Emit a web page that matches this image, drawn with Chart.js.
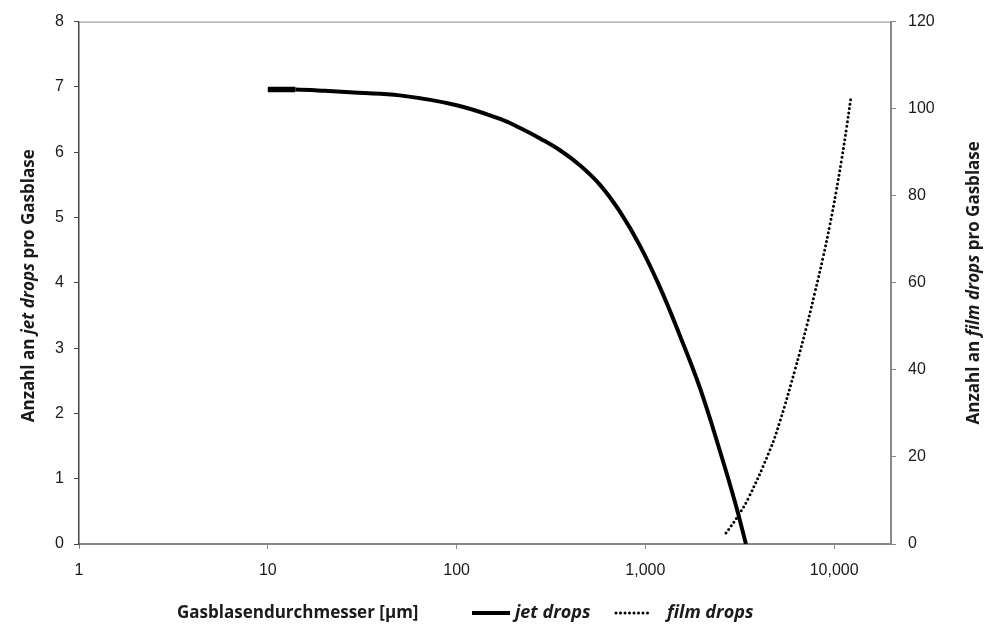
<!DOCTYPE html>
<html lang="de">
<head>
<meta charset="utf-8">
<title>Jet drops und film drops pro Gasblase</title>
<script src="https://cdn.jsdelivr.net/npm/chart.js@4.4.1/dist/chart.umd.min.js"></script>
<style>
    html, body { margin: 0; padding: 0; background: #ffffff; }
    #wrap { width: 985px; height: 628px; }
</style>
</head>
<body>
<div id="wrap"><canvas id="tropfenChart" width="985" height="628"></canvas></div>
<script>
// Jet drops: Gasblasendurchmesser [µm] und Anzahl pro Gasblase (linke Achse)
const jetDurchmesser = [10, 14, 20, 30, 50, 100, 170, 217, 277, 353, 450, 575, 733, 935, 1195, 1524, 1945, 2485, 2985, 3410];
const jetAnzahl      = [6.96, 6.96, 6.94, 6.91, 6.87, 6.72, 6.51, 6.37, 6.21, 6.03, 5.80, 5.50, 5.09, 4.57, 3.93, 3.19, 2.39, 1.42, 0.64, 0];

// Film drops: Anzahl pro Gasblase (rechte Achse)
const filmDurchmesser = [2673, 3046, 3510, 4571, 5164, 6199, 7146, 7907, 8750, 9500, 10230, 10960, 11650, 12230];
const filmAnzahl      = [2.5, 6.0, 10.5, 21.6, 28.2, 40.0, 50.0, 57.8, 66.0, 73.4, 80.8, 88.4, 95.8, 102.2];

// Achsenbeschriftung
const xTickWerte  = [1, 10, 100, 1000, 10000];
const xTickLabels = ['1', '10', '100', '1,000', '10,000'];
const xTitel      = 'Gasblasendurchmesser [µm]';
const yTitelLinks  = [['Anzahl an ', false], ['jet drops', true], [' pro Gasblase', false]];
const yTitelRechts = [['Anzahl an ', false], ['film drops', true], [' pro Gasblase', false]];

const TEXTFARBE = '#1a1a1a';

/**
 * Schrift für Titel und Legende
 */
function titelFont(kursiv, groesse) {
    return `${kursiv ? 'italic ' : ''}700 ${groesse || 17}px "Open Sans", sans-serif`;
}

/**
 * Text aus mehreren Teilen (normal / kursiv) zentriert zeichnen
 */
function zeichneGemischt(ctx, teile, cx, cy, winkel) {
    let gesamt = 0;
    teile.forEach(([text, kursiv]) => {
        ctx.font = titelFont(kursiv);
        gesamt += ctx.measureText(text).width;
    });
    ctx.save();
    ctx.translate(cx, cy);
    ctx.rotate(winkel);
    ctx.textBaseline = 'middle';
    ctx.textAlign = 'left';
    ctx.fillStyle = TEXTFARBE;
    let x = -gesamt / 2;
    teile.forEach(([text, kursiv]) => {
        ctx.font = titelFont(kursiv);
        ctx.fillText(text, x, 0);
        x += ctx.measureText(text).width;
    });
    ctx.restore();
}

/**
 * Plugin: oberer Rahmen, Achsentitel und Legende in einer Zeile unten
 */
const beschriftungPlugin = {
    id: 'beschriftung',
    afterDraw(chart) {
        const ctx = chart.ctx;
        const area = chart.chartArea;
        const mitteY = (area.top + area.bottom) / 2;

        ctx.save();
        // oberer Rahmen
        ctx.strokeStyle = '#8c8c8c';
        ctx.lineWidth = 1;
        ctx.beginPath();
        ctx.moveTo(area.left, area.top + 0.5);
        ctx.lineTo(area.right, area.top + 0.5);
        ctx.stroke();

        // y-Titel, beide von unten nach oben gelesen
        zeichneGemischt(ctx, yTitelLinks, 29, mitteY + 3, -Math.PI / 2);
        zeichneGemischt(ctx, yTitelRechts, 974, mitteY, -Math.PI / 2);

        // x-Titel
        const zeileY = 613;
        ctx.fillStyle = TEXTFARBE;
        ctx.textBaseline = 'middle';
        ctx.textAlign = 'left';
        ctx.font = titelFont(false);
        ctx.fillText(xTitel, 177, zeileY);

        // Legende
        const ds = chart.data.datasets;
        ctx.strokeStyle = '#000';
        ctx.lineWidth = 4;
        ctx.lineCap = 'butt';
        ctx.beginPath();
        ctx.moveTo(472, zeileY);
        ctx.lineTo(510, zeileY);
        ctx.stroke();
        ctx.font = titelFont(true, 18);
        ctx.fillText(ds[0].label, 515, zeileY);

        ctx.lineWidth = 3;
        ctx.lineCap = 'round';
        ctx.setLineDash([0, 4.5]);
        ctx.beginPath();
        ctx.moveTo(616, zeileY);
        ctx.lineTo(650, zeileY);
        ctx.stroke();
        ctx.setLineDash([]);
        ctx.fillText(ds[1].label, 667, zeileY);
        ctx.restore();
    }
};

function punkte(xs, ys) {
    return xs.map((x, i) => ({ x: x, y: ys[i] }));
}

const tickFont = { family: '"Liberation Sans", Arial, sans-serif', size: 16 };

function initChart() {
    const ctx = document.getElementById('tropfenChart').getContext('2d');

    new Chart(ctx, {
        type: 'line',
        data: {
            datasets: [
                {
                    label: 'jet drops',
                    data: punkte(jetDurchmesser, jetAnzahl),
                    yAxisID: 'y',
                    borderColor: '#000000',
                    borderWidth: 4,
                    // erstes Stück der Kurve etwas kräftiger
                    segment: {
                        borderWidth: c => (c.p0DataIndex === 0 ? 5.5 : 4)
                    },
                    pointRadius: 0,
                    tension: 0.4,
                    fill: false
                },
                {
                    label: 'film drops',
                    data: punkte(filmDurchmesser, filmAnzahl),
                    yAxisID: 'y2',
                    borderColor: '#000000',
                    borderWidth: 3,
                    borderCapStyle: 'round',
                    borderDash: [0, 4.5],
                    pointRadius: 0,
                    tension: 0.4,
                    fill: false
                }
            ]
        },
        options: {
            responsive: false,
            animation: false,
            layout: { padding: { top: 19, left: 0, right: 0, bottom: 0 } },
            plugins: {
                legend: { display: false },
                tooltip: { enabled: false }
            },
            scales: {
                x: {
                    type: 'logarithmic',
                    min: 1,
                    max: 20000,
                    afterBuildTicks: scale => {
                        scale.ticks = xTickWerte.map(v => ({ value: v }));
                    },
                    afterFit: scale => { scale.height = 84; },
                    ticks: {
                        autoSkip: false,
                        maxRotation: 0,
                        padding: 12,
                        color: TEXTFARBE,
                        font: tickFont,
                        callback: (value, index) => xTickLabels[index]
                    },
                    grid: {
                        drawOnChartArea: false,
                        drawTicks: true,
                        tickLength: 5,
                        tickColor: '#888888'
                    },
                    border: { display: true, color: '#888888', width: 2 }
                },
                y: {
                    position: 'left',
                    min: 0,
                    max: 8,
                    afterFit: scale => { scale.width = 79; },
                    ticks: {
                        stepSize: 1,
                        padding: 10,
                        color: TEXTFARBE,
                        font: tickFont
                    },
                    grid: {
                        drawOnChartArea: false,
                        drawTicks: true,
                        tickLength: 5,
                        tickColor: '#444444'
                    },
                    border: { display: true, color: '#444444', width: 1.5 }
                },
                y2: {
                    position: 'right',
                    min: 0,
                    max: 120,
                    afterFit: scale => { scale.width = 94; },
                    ticks: {
                        stepSize: 20,
                        padding: 12,
                        color: TEXTFARBE,
                        font: tickFont
                    },
                    grid: {
                        drawOnChartArea: false,
                        drawTicks: true,
                        tickLength: 5,
                        tickColor: '#888888'
                    },
                    border: { display: true, color: '#888888', width: 2 }
                }
            }
        },
        plugins: [beschriftungPlugin]
    });
}

if (document.readyState === 'loading') {
    document.addEventListener('DOMContentLoaded', initChart);
} else {
    initChart();
}
</script>
</body>
</html>
